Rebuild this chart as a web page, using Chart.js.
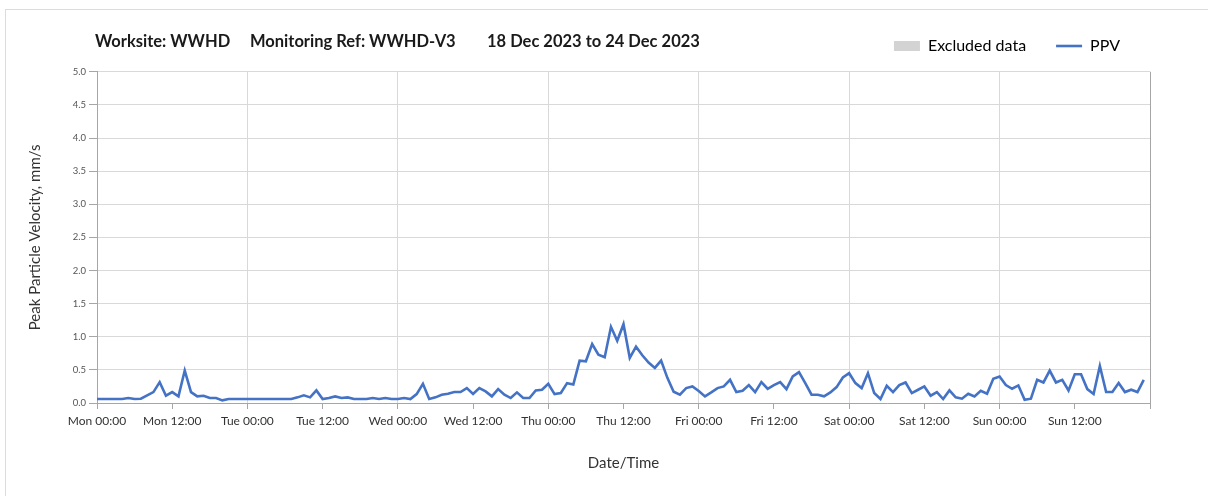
<!DOCTYPE html>
<html>
<head>
<meta charset="utf-8">
<title>PPV WWHD-V3</title>
<script src="https://cdn.jsdelivr.net/npm/chart.js@4.4.0/dist/chart.umd.min.js"></script>
<style>
  html, body { margin: 0; padding: 0; background: #fff; }
  body { width: 1208px; height: 496px; position: relative; overflow: hidden; font-family: Lato, "Open Sans", sans-serif; }
  #cadre { position: absolute; left: 5px; top: 9px; width: 1220px; height: 500px; border: 1px solid #dcdcdc; }
  #zone { position: absolute; left: 0; top: 0; width: 1208px; height: 496px; }
  .titre { position: absolute; top: 31px; font-weight: bold; font-size: 16.5px; color: #1a1a1a; white-space: pre; }
</style>
</head>
<body>
<div id="cadre"></div>
<div id="zone"><canvas id="graphique"></canvas></div>
<div class="titre" style="left:95px">Worksite: WWHD</div>
<div class="titre" style="left:250px">Monitoring Ref: WWHD-V3</div>
<div class="titre" style="left:487px">18 Dec 2023 to 24 Dec 2023</div>
<script>
// Jours et libellés de l'axe X (un tick toutes les 12 h)
var tickLabels = ["Mon 00:00", "Mon 12:00", "Tue 00:00", "Tue 12:00", "Wed 00:00", "Wed 12:00",
  "Thu 00:00", "Thu 12:00", "Fri 00:00", "Fri 12:00", "Sat 00:00", "Sat 12:00",
  "Sun 00:00", "Sun 12:00", ""];

// PPV horaire, mm/s (18 -> 24 déc.)
var ppvMon = [0.06, 0.06, 0.06, 0.06, 0.06, 0.075, 0.06, 0.065, 0.115, 0.165, 0.315, 0.11,
  0.165, 0.10, 0.49, 0.165, 0.10, 0.11, 0.075, 0.075, 0.04, 0.06, 0.06, 0.06];
var ppvTue = [0.06, 0.06, 0.06, 0.06, 0.06, 0.06, 0.06, 0.06, 0.085, 0.115, 0.085, 0.19,
  0.06, 0.075, 0.10, 0.075, 0.085, 0.06, 0.06, 0.06, 0.075, 0.06, 0.075, 0.06];
var ppvWed = [0.06, 0.075, 0.06, 0.135, 0.29, 0.06, 0.085, 0.125, 0.14, 0.165, 0.165, 0.225,
  0.135, 0.225, 0.175, 0.10, 0.21, 0.125, 0.075, 0.16, 0.075, 0.075, 0.19, 0.20];
var ppvThu = [0.29, 0.135, 0.15, 0.30, 0.28, 0.64, 0.63, 0.89, 0.73, 0.69, 1.15, 0.94,
  1.19, 0.68, 0.85, 0.72, 0.61, 0.53, 0.64, 0.38, 0.17, 0.125, 0.225, 0.25];
var ppvFri = [0.18, 0.10, 0.16, 0.225, 0.25, 0.35, 0.165, 0.185, 0.27, 0.165, 0.315, 0.215,
  0.27, 0.315, 0.21, 0.40, 0.465, 0.30, 0.125, 0.125, 0.10, 0.16, 0.24, 0.385];
var ppvSat = [0.45, 0.30, 0.225, 0.45, 0.15, 0.06, 0.26, 0.165, 0.27, 0.31, 0.15, 0.20,
  0.25, 0.11, 0.165, 0.06, 0.19, 0.085, 0.065, 0.14, 0.10, 0.185, 0.14, 0.365];
var ppvSun = [0.40, 0.27, 0.215, 0.265, 0.05, 0.065, 0.35, 0.31, 0.49, 0.31, 0.35, 0.19,
  0.435, 0.435, 0.21, 0.135, 0.56, 0.165, 0.165, 0.30, 0.165, 0.20, 0.165, 0.35];

var ppv = ppvMon.concat(ppvTue, ppvWed, ppvThu, ppvFri, ppvSat, ppvSun);

var bleu = "#4472c4";
var gris = "#d3d3d3";

// points {x: heure depuis lundi 00:00, y: ppv}
var points = [];
for (var i = 0; i < ppv.length; i++) {
  points.push({ x: i, y: ppv[i] });
}

var ctx = document.getElementById("graphique").getContext("2d");

var chart = new Chart(ctx, {
  type: "line",
  data: {
    datasets: [
      { label: "Excluded data", data: [], backgroundColor: gris, borderColor: gris },
      {
        label: "PPV",
        data: points,
        borderColor: bleu,
        backgroundColor: bleu,
        borderWidth: 2.6,
        pointRadius: 0,
        tension: 0
      }
    ]
  },
  options: {
    responsive: true,
    maintainAspectRatio: false,
    animation: false,
    layout: { padding: { left: 18, right: 58, top: 8, bottom: 20 } },
    plugins: {
      tooltip: { enabled: false },
      // sous-titre vide : petit espace entre la légende et le graphe
      subtitle: { display: true, text: "", weight: 500, font: { size: 6.5 }, padding: 0 },
      legend: {
        position: "top",
        align: "end",
        labels: {
          usePointStyle: true,
          pointStyleWidth: 26,
          boxHeight: 10,
          padding: 30,
          color: "#333",
          font: { family: "Lato", size: 16 },
          generateLabels: function(c) {
            var ds = c.data.datasets;
            return [
              { text: ds[0].label, fillStyle: gris, strokeStyle: gris, lineWidth: 0, pointStyle: "rect", datasetIndex: 0, hidden: false },
              { text: ds[1].label, fillStyle: bleu, strokeStyle: bleu, lineWidth: 2.6, pointStyle: "line", datasetIndex: 1, hidden: false }
            ];
          }
        }
      }
    },
    scales: {
      x: {
        type: "linear",
        min: 0,
        max: 168,
        afterFit: function(s) { s.height = 73; },
        border: { color: "#a6a6a6" },
        grid: {
          color: function(c) {
            var v = c.tick.value;
            if (v === 168) return "#a6a6a6";
            return v % 24 === 0 ? "#d9d9d9" : "rgba(0,0,0,0)";
          },
          tickColor: "#a6a6a6",
          tickLength: 6
        },
        ticks: {
          stepSize: 12,
          autoSkip: false,
          maxRotation: 0,
          color: "#333",
          font: { family: "Lato", size: 12 },
          padding: 5,
          callback: function(v) { return tickLabels[v / 12]; }
        },
        title: {
          display: true,
          text: "Date/Time",
          color: "#333",
          font: { family: "Lato", size: 15 },
          padding: { top: 14, bottom: 4 }
        }
      },
      y: {
        min: 0,
        max: 5,
        afterFit: function(s) { s.width = 79; },
        border: { color: "#a6a6a6" },
        grid: { color: "#d9d9d9", tickColor: "#a6a6a6", tickLength: 8 },
        ticks: {
          stepSize: 0.5,
          color: "#555",
          font: { family: "Lato", size: 9.5 },
          padding: 3,
          callback: function(v) { return v.toFixed(1); }
        },
        title: {
          display: true,
          text: "Peak Particle Velocity, mm/s",
          color: "#333",
          font: { family: "Lato", size: 15 },
          padding: { top: 8, bottom: 0 }
        }
      }
    }
  }
});
</script>
</body>
</html>
